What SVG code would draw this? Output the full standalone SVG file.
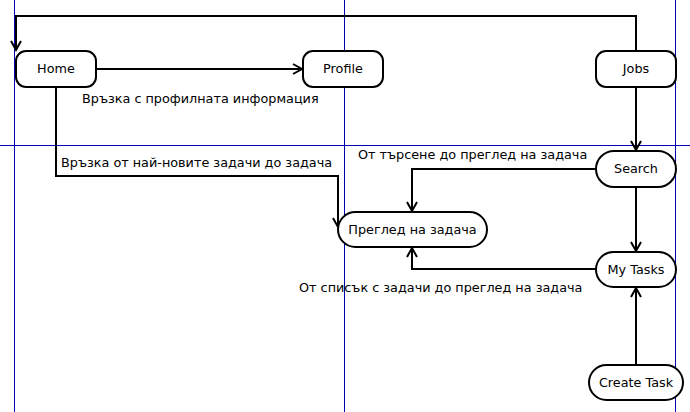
<svg xmlns="http://www.w3.org/2000/svg" width="690" height="412" viewBox="0 0 690 412">
<style>
.lane{stroke:#0000b0;stroke-width:1;fill:none}
.node rect{fill:#fff;stroke:#000;stroke-width:2}
.node text{font-family:"DejaVu Sans",sans-serif;font-size:12.8px;fill:#000;text-anchor:middle;dominant-baseline:central}
.edge{fill:none;stroke:#000;stroke-width:2;marker-end:url(#arr)}
.lbl{font-family:"DejaVu Sans",sans-serif;font-size:12.8px;fill:#000}
</style>
<defs>
<marker id="arr" markerUnits="userSpaceOnUse" markerWidth="20" markerHeight="20" viewBox="-10 -10 20 20" refX="0" refY="0" orient="auto">
<path d="M-9,-5 L0,0 L-9,5" fill="none" stroke="#000" stroke-width="2"/>
</marker>
</defs>
<rect width="690" height="412" fill="#fff"/>
<g id="lanes">
<line class="lane" x1="14.5" y1="0" x2="14.5" y2="412"/>
<line class="lane" x1="344.5" y1="0" x2="344.5" y2="412"/>
<line class="lane" x1="675.5" y1="0" x2="675.5" y2="412"/>
<line class="lane" x1="0" y1="145.5" x2="690" y2="145.5"/>
</g>
<g id="connectors">
<path class="edge" d="M636,51 V16 H16 V50"/>
<path class="edge" d="M96,69 H302"/>
<path class="edge" d="M56,87 V176 H338 V227"/>
<path class="edge" d="M636,87 V150"/>
<path class="edge" d="M596,169 H412 V211"/>
<path class="edge" d="M636,187 V251"/>
<path class="edge" d="M596,269 H412 V248"/>
<path class="edge" d="M636,365 V288"/>
</g>
<g id="labels">
<text class="lbl" x="82" y="103">Връзка с профилната информация</text>
<text class="lbl" x="61" y="167">Връзка от най-новите задачи до задача</text>
<text class="lbl" x="358" y="159">От търсене до преглед на задача</text>
<text class="lbl" x="299" y="292">От списък с задачи до преглед на задача</text>
</g>
<g id="home" class="node"><rect x="16" y="51" width="80" height="36" rx="10"/><text x="56" y="68.5">Home</text></g>
<g id="profile" class="node"><rect x="303" y="51" width="80" height="36" rx="10"/><text x="343" y="68.5">Profile</text></g>
<g id="jobs" class="node"><rect x="596" y="51" width="80" height="36" rx="10"/><text x="636" y="68.5">Jobs</text></g>
<g id="search" class="node"><rect x="596" y="151" width="80" height="36" rx="18"/><text x="636" y="168.5">Search</text></g>
<g id="preglad" class="node"><rect x="338" y="212" width="149" height="35" rx="17.5"/><text x="412.5" y="229">Преглед на задача</text></g>
<g id="mytasks" class="node"><rect x="596" y="252" width="80" height="35" rx="17.5"/><text x="636" y="269">My Tasks</text></g>
<g id="createtask" class="node"><rect x="589" y="365" width="94" height="35" rx="17.5"/><text x="636" y="382">Create Task</text></g>
</svg>
